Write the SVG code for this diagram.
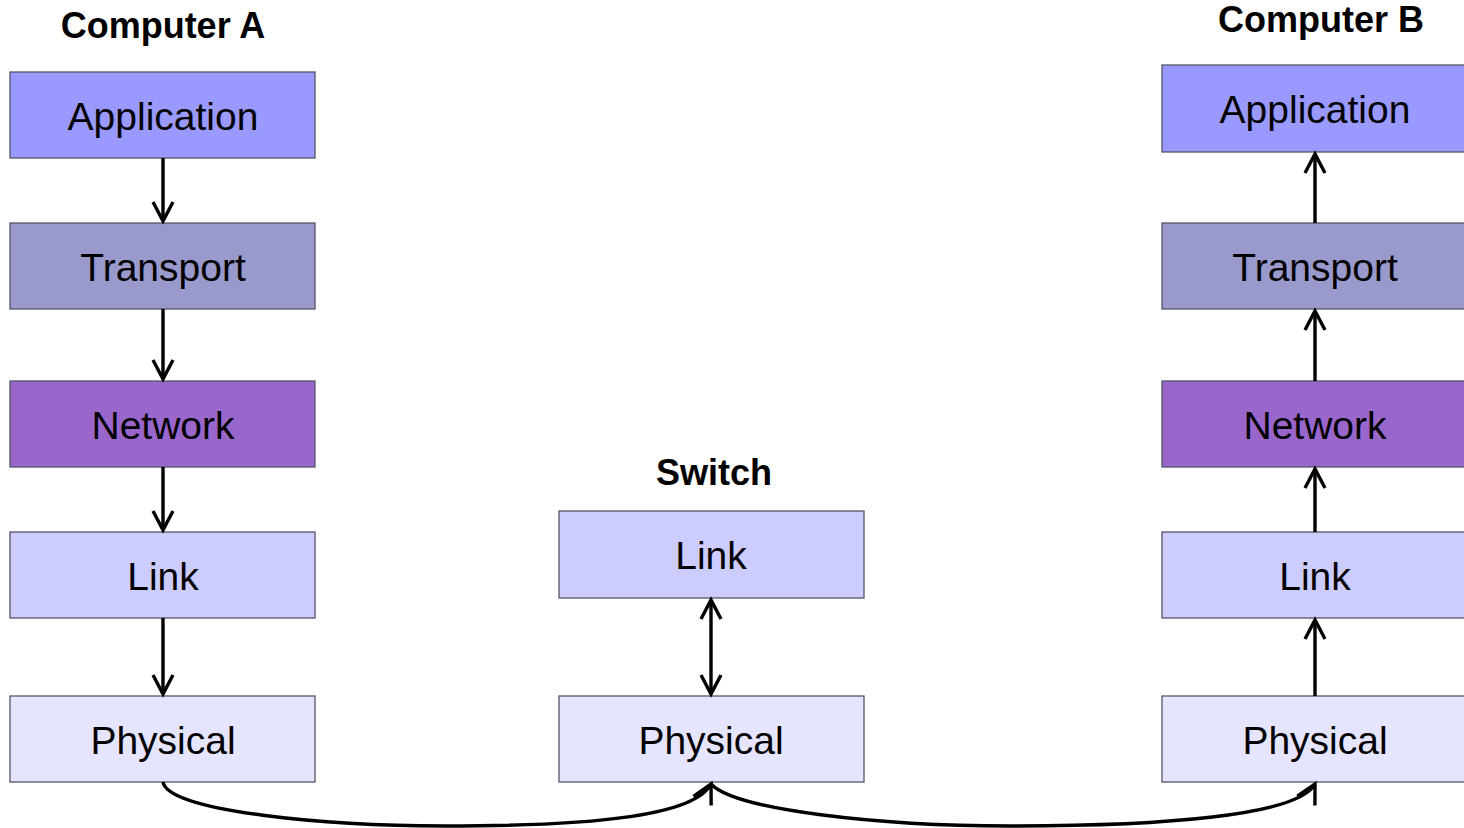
<svg xmlns="http://www.w3.org/2000/svg" width="1464" height="828" viewBox="0 0 1464 828">
<style>
.box{stroke:#555566;stroke-width:1.3}
.lbl{font-family:"Liberation Sans",Arial,sans-serif;font-size:39px;fill:#000;text-anchor:middle}
.ttl{font-family:"Liberation Sans",Arial,sans-serif;font-size:36px;font-weight:bold;fill:#000;text-anchor:middle}
.app{fill:#9999FF}.tra{fill:#9999CC}.net{fill:#9966CC}.lnk{fill:#CCCCFF}.phy{fill:#E5E5FF}
.c{stroke:#000;stroke-width:3.4;fill:none}
</style>
<defs>
<marker id="ah" markerUnits="userSpaceOnUse" viewBox="-22 -14 26 28" markerWidth="26" markerHeight="28" refX="0" refY="0" orient="auto">
<path d="M-19,-10 L0,0 L-19,10" fill="none" stroke="#000" stroke-width="3.4"/>
</marker>
<marker id="ahs" markerUnits="userSpaceOnUse" viewBox="-22 -14 26 28" markerWidth="26" markerHeight="28" refX="0" refY="0" orient="auto-start-reverse">
<path d="M-19,-10 L0,0 L-19,10" fill="none" stroke="#000" stroke-width="3.4"/>
</marker>
</defs>
<rect width="1464" height="828" fill="#fff"/>
<text class="ttl" x="163" y="38">Computer A</text>
<text class="ttl" x="1321" y="32">Computer B</text>
<text class="ttl" x="714" y="485">Switch</text>
<g id="a-app"><rect class="box app" x="10" y="72" width="305" height="86"/><text class="lbl" x="163" y="130">Application</text></g>
<g id="a-tra"><rect class="box tra" x="10" y="223" width="305" height="86"/><text class="lbl" x="163" y="281">Transport</text></g>
<g id="a-net"><rect class="box net" x="10" y="381" width="305" height="86"/><text class="lbl" x="163" y="439">Network</text></g>
<g id="a-lnk"><rect class="box lnk" x="10" y="532" width="305" height="86"/><text class="lbl" x="163" y="590">Link</text></g>
<g id="a-phy"><rect class="box phy" x="10" y="696" width="305" height="86"/><text class="lbl" x="163" y="754">Physical</text></g>
<g id="s-lnk"><rect class="box lnk" x="559" y="511" width="305" height="87"/><text class="lbl" x="711" y="569">Link</text></g>
<g id="s-phy"><rect class="box phy" x="559" y="696" width="305" height="86"/><text class="lbl" x="711" y="754">Physical</text></g>
<g id="b-app"><rect class="box app" x="1162" y="65" width="306" height="87"/><text class="lbl" x="1315" y="123">Application</text></g>
<g id="b-tra"><rect class="box tra" x="1162" y="223" width="306" height="86"/><text class="lbl" x="1315" y="281">Transport</text></g>
<g id="b-net"><rect class="box net" x="1162" y="381" width="306" height="86"/><text class="lbl" x="1315" y="439">Network</text></g>
<g id="b-lnk"><rect class="box lnk" x="1162" y="532" width="306" height="86"/><text class="lbl" x="1315" y="590">Link</text></g>
<g id="b-phy"><rect class="box phy" x="1162" y="696" width="306" height="86"/><text class="lbl" x="1315" y="754">Physical</text></g>
<g id="connectors">
<line class="c" x1="163" y1="158" x2="163" y2="221" marker-end="url(#ah)"/>
<line class="c" x1="163" y1="309" x2="163" y2="379" marker-end="url(#ah)"/>
<line class="c" x1="163" y1="467" x2="163" y2="530" marker-end="url(#ah)"/>
<line class="c" x1="163" y1="618" x2="163" y2="694" marker-end="url(#ah)"/>
<line class="c" x1="711" y1="600" x2="711" y2="694" marker-start="url(#ahs)" marker-end="url(#ah)"/>
<line class="c" x1="1315" y1="223" x2="1315" y2="154" marker-end="url(#ah)"/>
<line class="c" x1="1315" y1="381" x2="1315" y2="311" marker-end="url(#ah)"/>
<line class="c" x1="1315" y1="532" x2="1315" y2="469" marker-end="url(#ah)"/>
<line class="c" x1="1315" y1="696" x2="1315" y2="620" marker-end="url(#ah)"/>
<path class="c" d="M163,782 C168,812 330,826 445,826 C600,826 695,815 711,784" marker-end="url(#ah)"/>
<path class="c" d="M711,784 C735,810 880,826 1010,826 C1160,826 1298,816 1315,784" marker-end="url(#ah)"/>
</g>
</svg>
